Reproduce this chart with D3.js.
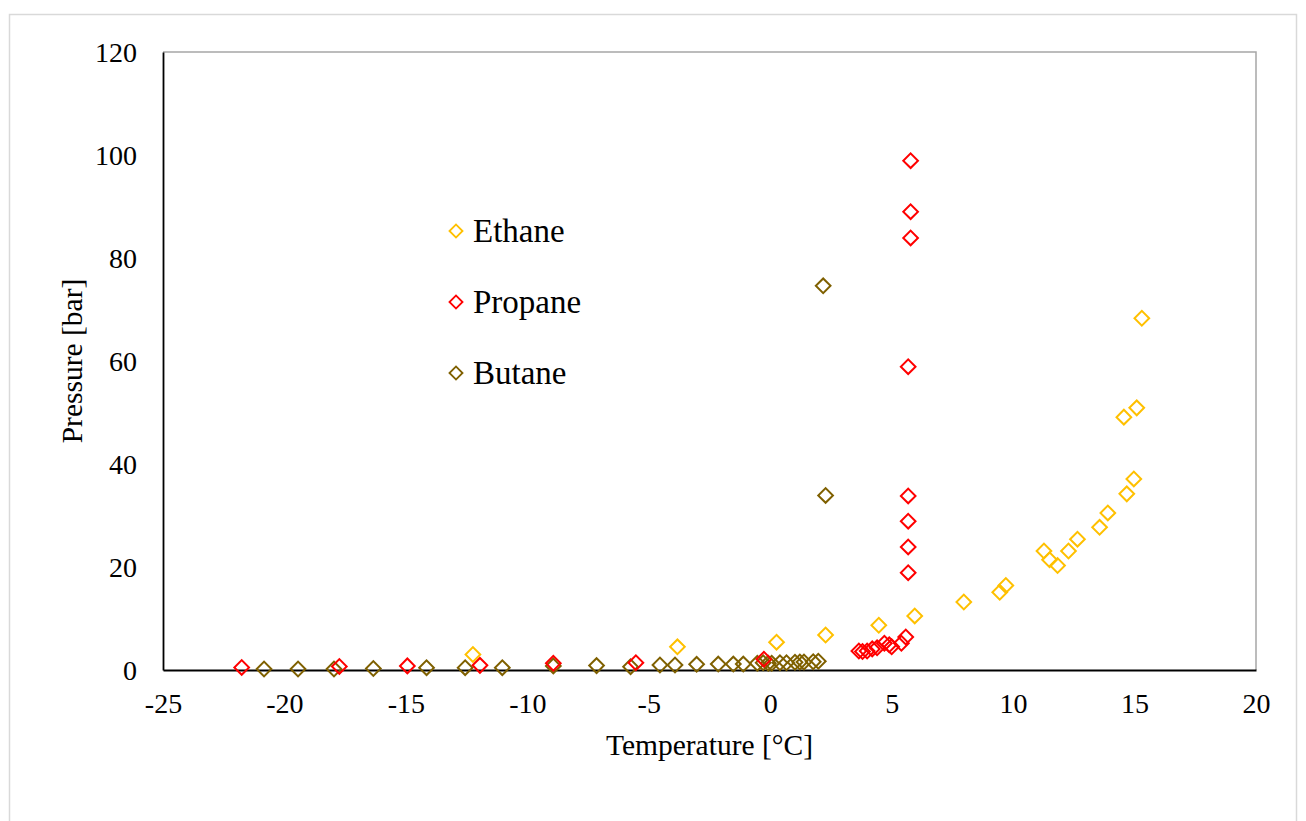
<!DOCTYPE html>
<html>
<head>
<meta charset="utf-8">
<script src="https://cdn.jsdelivr.net/npm/d3@7/dist/d3.min.js"></script>
<style>
  html, body { margin: 0; padding: 0; background: #fff; }
  svg { display: block; }
  text { font-family: "Liberation Serif", "Times New Roman", serif; fill: #000; }
</style>
</head>
<body>
<svg id="chart" width="1306" height="821"></svg>
<script>
// ---- Data ----
const ethaneT = [-12.24, -3.82, 0.26, 2.28, 4.47, 5.95, 7.97, 9.45, 9.7, 11.27, 11.5, 11.83, 12.28, 12.65, 13.56, 13.9, 14.68, 14.97, 14.56, 15.09, 15.3];
const ethaneP = [3.0, 4.5, 5.4, 6.8, 8.7, 10.5, 13.2, 15.1, 16.4, 23.1, 21.4, 20.3, 23.1, 25.4, 27.7, 30.5, 34.2, 37.1, 49.1, 50.9, 68.3];

const propaneT = [-21.76, -17.74, -14.94, -11.95, -8.93, -5.53, -0.26, 3.65, 3.8, 3.99, 4.2, 4.4, 4.7, 4.9, 5.0, 5.4, 5.58, 5.68, 5.68, 5.68, 5.68, 5.68, 5.78, 5.78, 5.78];
const propaneP = [0.5, 0.7, 0.8, 0.9, 1.3, 1.4, 2.1, 3.7, 3.6, 3.7, 4.1, 4.3, 5.2, 4.9, 4.5, 5.2, 6.4, 18.9, 23.9, 28.9, 33.8, 58.9, 83.9, 89.0, 98.9];

const butaneT = [-20.84, -19.44, -17.96, -16.34, -14.15, -12.56, -11.03, -8.93, -7.15, -5.75, -4.54, -3.92, -3.03, -2.14, -1.52, -1.11, -0.53, -0.29, -0.08, 0.06, 0.4, 0.67, 1.02, 1.22, 1.39, 1.77, 1.98, 2.18, 2.28];
const butaneP = [0.2, 0.2, 0.2, 0.3, 0.45, 0.45, 0.45, 0.8, 0.85, 0.65, 0.97, 0.97, 1.1, 1.15, 1.15, 1.15, 1.3, 1.4, 1.3, 1.3, 1.4, 1.4, 1.5, 1.55, 1.55, 1.6, 1.7, 74.6, 33.9];

const seriesNames = ["Ethane", "Propane", "Butane"];
const seriesColors = ["#FFC000", "#FF0000", "#7F6000"];
const xTicks = [-25, -20, -15, -10, -5, 0, 5, 10, 15, 20];
const yTicks = [0, 20, 40, 60, 80, 100, 120];
const xTitle = "Temperature [°C]";
const yTitle = "Pressure [bar]";

// ---- Layout ----
const svg = d3.select("#chart");
const L = 163, R = 1256, T = 52, B = 670;

const x = d3.scaleLinear().domain([-25, 20]).range([L, R]);
const y = d3.scaleLinear().domain([0, 120]).range([B, T]);

// outer frame
svg.append("rect").attr("x", 9.5).attr("y", 14.5).attr("width", 1287).attr("height", 830)
  .attr("fill", "none").attr("stroke", "#d9d9d9").attr("stroke-width", 1.5);

// plot frame (top/right)
svg.append("path")
  .attr("d", `M${L},${T}H${R}V${B}`)
  .attr("fill", "none").attr("stroke", "#a6a6a6").attr("stroke-width", 1.5);

// axes
const xAxis = d3.axisBottom(x).tickValues(xTicks).tickSize(0).tickPadding(0).tickFormat(d3.format("d"));
const gx = svg.append("g").attr("transform", `translate(0,${B})`).call(xAxis);
gx.select(".domain").attr("stroke", "#000").attr("stroke-width", 2.2);
gx.selectAll("text").attr("font-size", 28).attr("dy", null).attr("y", 43)
  .style("font-family", '"Liberation Serif", "Times New Roman", serif')
  .text(d => d < 0 ? "-" + Math.abs(d) : String(d));

const yAxis = d3.axisLeft(y).tickValues(yTicks).tickSize(0).tickPadding(0);
const gy = svg.append("g").attr("transform", `translate(${L},0)`).call(yAxis);
gy.select(".domain").attr("stroke", "#000").attr("stroke-width", 1.8);
gy.selectAll("text").attr("font-size", 28).attr("x", -26).attr("dy", "0.34em")
  .style("font-family", '"Liberation Serif", "Times New Roman", serif');

// axis titles
svg.append("text").attr("x", (L + R) / 2).attr("y", 755).attr("text-anchor", "middle")
  .attr("font-size", 29.5).text(xTitle);
svg.append("text").attr("transform", `translate(82,${(T + B) / 2}) rotate(-90)`)
  .attr("text-anchor", "middle").attr("font-size", 29.5).text(yTitle);

// markers
const diamond = d3.symbol().type(d3.symbolSquare).size(108);
const series = [
  { name: seriesNames[0], color: seriesColors[0], t: ethaneT, p: ethaneP },
  { name: seriesNames[1], color: seriesColors[1], t: propaneT, p: propaneP },
  { name: seriesNames[2], color: seriesColors[2], t: butaneT, p: butaneP }
];
const drawOrder = [0, 2, 1];
drawOrder.forEach(i => {
  const s = series[i];
  const pts = s.t.map((t, k) => ({ t, p: s.p[k] }));
  svg.append("g").selectAll("path").data(pts).join("path")
    .attr("d", diamond)
    .attr("transform", d => `translate(${x(d.t)},${y(d.p)}) rotate(45)`)
    .attr("fill", "none").attr("stroke", s.color).attr("stroke-width", 2);
});

// legend
const legendY = [231, 302, 373];
const legDiamond = d3.symbol().type(d3.symbolSquare).size(84);
series.forEach((s, i) => {
  svg.append("path").attr("d", legDiamond)
    .attr("transform", `translate(456,${legendY[i]}) rotate(45)`)
    .attr("fill", "none").attr("stroke", s.color).attr("stroke-width", 1.9);
  svg.append("text").attr("x", 473).attr("y", legendY[i] + 11)
    .attr("font-size", 33).text(s.name);
});
</script>
</body>
</html>
